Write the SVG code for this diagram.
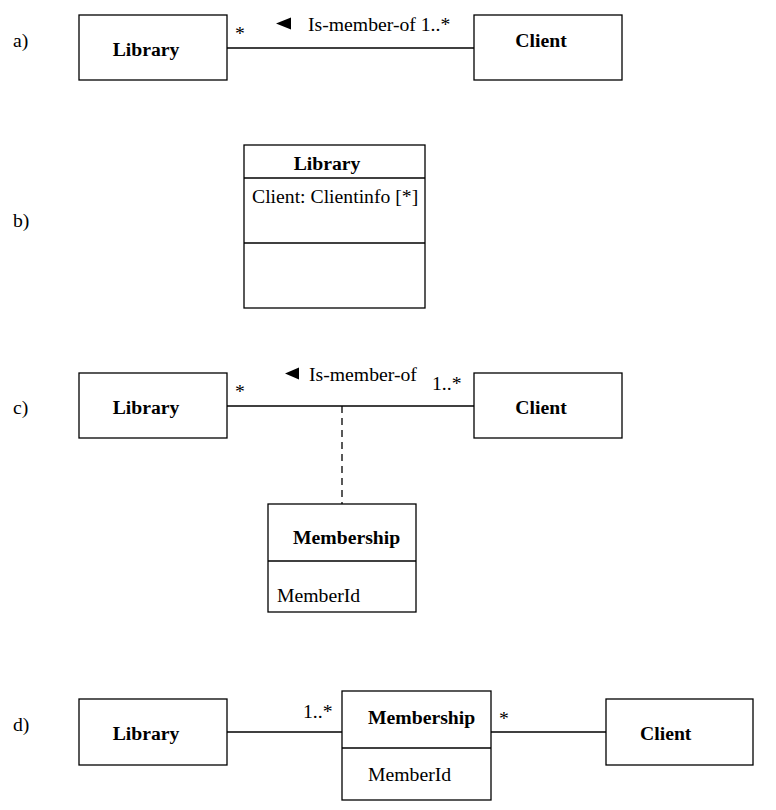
<svg xmlns="http://www.w3.org/2000/svg" width="776" height="810" viewBox="0 0 776 810">
<style>
.box{fill:#fff;stroke:#000;stroke-width:1.3}
.ln{stroke:#000;stroke-width:1.3;fill:none}
.dash{stroke:#000;stroke-width:1.3;fill:none;stroke-dasharray:7,5}
text{font-family:"Liberation Serif","Times New Roman",serif;font-size:19.7px;fill:#000}
.b{font-weight:bold}
.m{text-anchor:middle}
</style>
<rect width="776" height="810" fill="#fff"/>
<g id="labels">
<text x="13" y="47">a)</text>
<text x="13" y="227">b)</text>
<text x="13" y="414">c)</text>
<text x="13" y="731">d)</text>
</g>
<g id="connectors">
<line class="ln" x1="227" y1="48" x2="474" y2="48"/>
<polygon points="276,23.5 291,17.5 291,29.5" fill="#000"/>
<text x="308" y="31">Is-member-of 1..*</text>
<text x="235" y="40">*</text>
<line class="ln" x1="227" y1="406" x2="474" y2="406"/>
<line class="dash" x1="342" y1="406" x2="342" y2="504"/>
<polygon points="285,373.5 299,367.5 299,379.5" fill="#000"/>
<text x="309" y="381">Is-member-of</text>
<text x="235" y="398">*</text>
<text x="432" y="390">1..*</text>
<line class="ln" x1="227" y1="732" x2="342" y2="732"/>
<line class="ln" x1="491" y1="732" x2="606" y2="732"/>
<text x="303" y="718">1..*</text>
<text x="499" y="725">*</text>
</g>
<g id="a-library"><rect class="box" x="79" y="15" width="148" height="65"/><text class="b m" x="146" y="56">Library</text></g>
<g id="a-client"><rect class="box" x="474" y="15" width="148" height="65"/><text class="b m" x="541" y="47">Client</text></g>
<g id="b-library">
<rect class="box" x="244" y="145" width="181" height="163"/>
<line class="ln" x1="244" y1="178" x2="425" y2="178"/>
<line class="ln" x1="244" y1="243" x2="425" y2="243"/>
<text class="b m" x="327" y="170">Library</text>
<text x="252" y="203">Client: Clientinfo [*]</text>
</g>
<g id="c-library"><rect class="box" x="79" y="373" width="148" height="65"/><text class="b m" x="146" y="414">Library</text></g>
<g id="c-client"><rect class="box" x="474" y="373" width="148" height="65"/><text class="b m" x="541" y="414">Client</text></g>
<g id="c-membership">
<rect class="box" x="268" y="504" width="148" height="108"/>
<line class="ln" x1="268" y1="561" x2="416" y2="561"/>
<text class="b" x="293" y="544">Membership</text>
<text x="277" y="602">MemberId</text>
</g>
<g id="d-library"><rect class="box" x="79" y="699" width="148" height="66"/><text class="b m" x="146" y="740">Library</text></g>
<g id="d-membership">
<rect class="box" x="342" y="691" width="149" height="109"/>
<line class="ln" x1="342" y1="748" x2="491" y2="748"/>
<text class="b" x="368" y="724">Membership</text>
<text x="368" y="781">MemberId</text>
</g>
<g id="d-client"><rect class="box" x="606" y="699" width="147" height="66"/><text class="b" x="640" y="740">Client</text></g>
</svg>
